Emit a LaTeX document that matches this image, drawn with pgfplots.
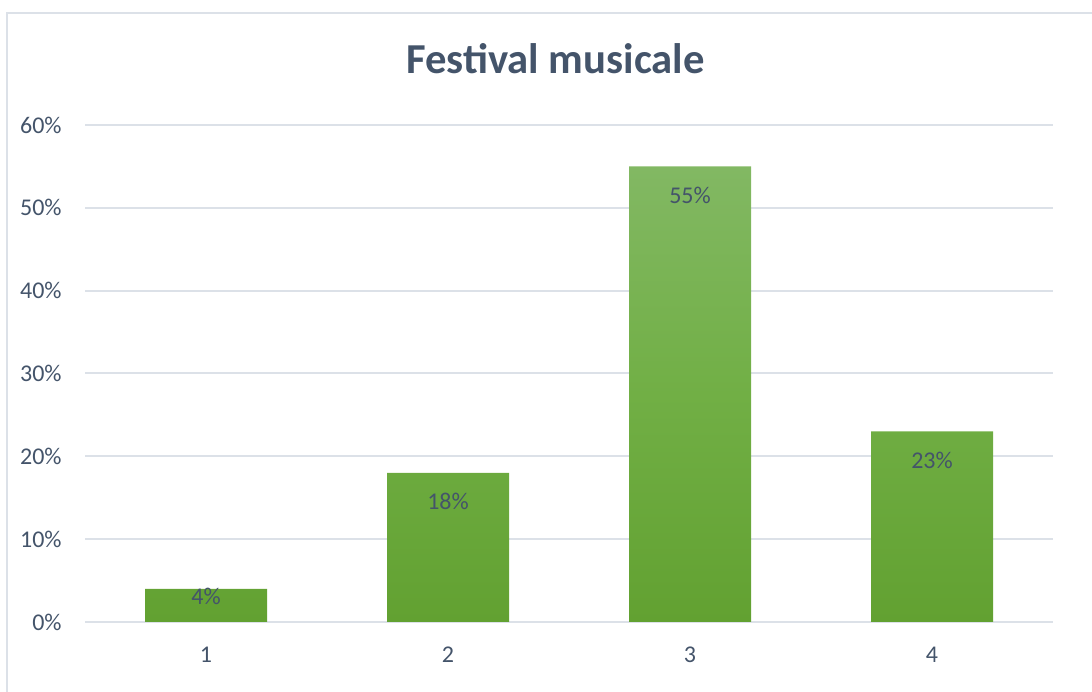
\documentclass[border=0pt]{standalone}
\usepackage{pgfplots}
\pgfplotsset{compat=1.18}
\usepackage{pgfplotstable}
\usepackage{fontspec}
\setmainfont{Carlito}

\definecolor{txt}{HTML}{44546A}
\definecolor{gridc}{HTML}{DCE1E8}
\definecolor{bartop}{HTML}{82B863}
\definecolor{barmid}{HTML}{71AF45}
\definecolor{barbot}{HTML}{62A131}

% x, share, label offset from the bar top (pt)
\pgfplotstableread{
x  y   dy
1  4   -6
2  18  -21.5
3  55  -21.5
4  23  -21.5
}\festival

\begin{document}
\begin{tikzpicture}
\useasboundingbox (0,0) rectangle (819pt,519pt);
% chart frame (left and top edges)
\draw[gridc, line width=1.5pt] (5.25pt,0) -- (5.25pt,509.25pt) -- (819pt,509.25pt);
\node[txt, font=\fontsize{32pt}{36pt}\selectfont\bfseries, anchor=base]
  at (416.6pt,463.5pt) {Festival musicale};
\begin{axis}[
  at={(63.75pt,52.5pt)}, anchor=south west,
  scale only axis,
  width=726pt, height=372.75pt,
  xmin=0.5, xmax=4.5,
  ymin=0, ymax=60,
  axis line style={draw=none},
  xtick={1,2,3,4},
  ytick={0,10,...,60},
  major tick length=0pt,
  ymajorgrids,
  grid style={gridc, line width=1.5pt},
  yticklabel={\pgfmathprintnumber{\tick}\%},
  tick label style={txt, font=\fontsize{18pt}{21pt}\selectfont},
  /pgf/number format/assume math mode=true,
  yticklabel style={xshift=-14pt},
  xticklabel style={yshift=-15pt},
  clip=false,
]
\addplot[ybar, bar width=91.5pt, draw=none,
  top color=bartop, bottom color=barbot, middle color=barmid,
  visualization depends on={\thisrow{dy} \as \dy},
  nodes near coords={\pgfmathprintnumber{\pgfplotspointmeta}\%},
  point meta=explicit,
  nodes near coords style={txt, font=\fontsize{18pt}{21pt}\selectfont,
    anchor=center, yshift=\dy pt,
    /pgf/number format/assume math mode=true},
] table[x=x, y=y, meta=y] {\festival};
\end{axis}
\end{tikzpicture}
\end{document}
